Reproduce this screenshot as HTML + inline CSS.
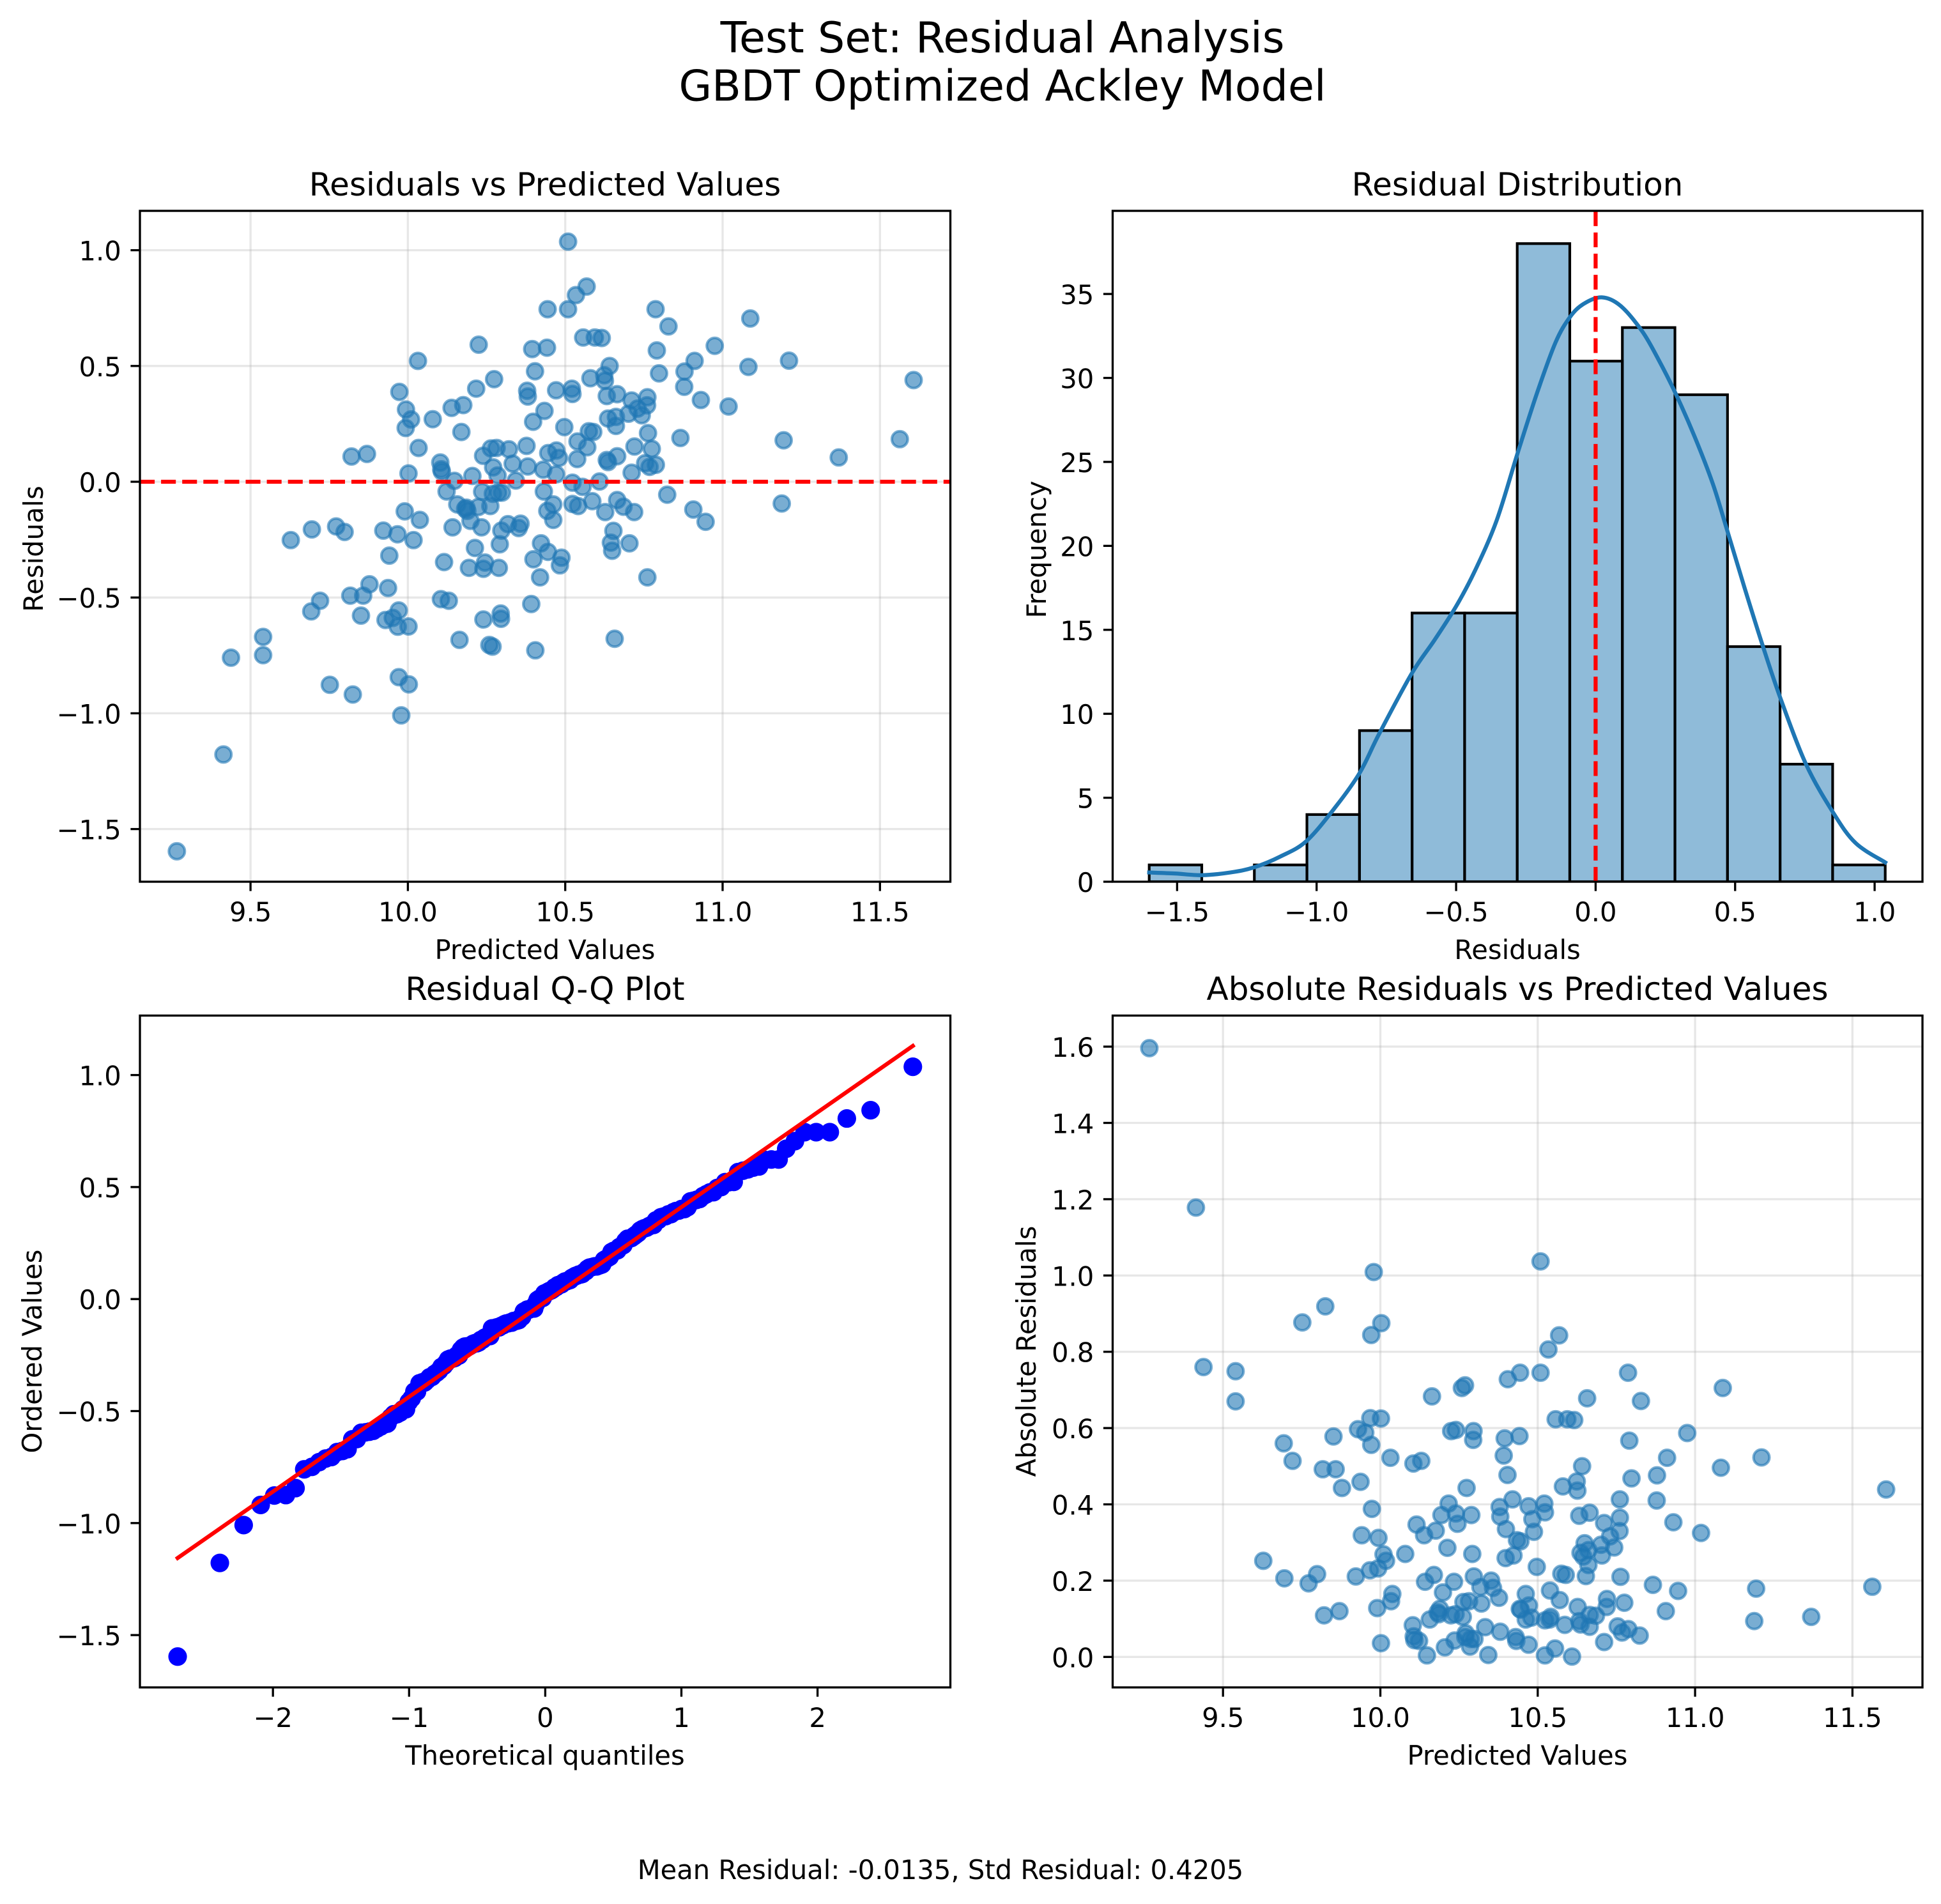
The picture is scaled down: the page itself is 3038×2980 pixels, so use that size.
<!DOCTYPE html>
<html lang="en">
<head>
<meta charset="utf-8">
<title>Test Set: Residual Analysis</title>
<style>
html,body{margin:0;padding:0;background:#fff;}
svg{display:block;}
text{font-family:"DejaVu Sans","Liberation Sans",sans-serif;fill:#000;}
.tick{font-size:41.67px;}
.label{font-size:41.67px;text-anchor:middle;}
.title{font-size:50px;text-anchor:middle;}
.sup{font-size:66.67px;text-anchor:middle;}
.foot{font-size:41.67px;text-anchor:middle;}
</style>
</head>
<body>
<svg id="fig" xmlns="http://www.w3.org/2000/svg" width="3038" height="2980" viewBox="0 0 3038 2980">
  <rect x="0" y="0" width="3038" height="2980" fill="#fff"/>
  <defs>
    <clipPath id="clip1"><rect x="219" y="330" width="1268.5" height="1050"/></clipPath>
    <clipPath id="clip2"><rect x="1741.5" y="330" width="1267.5" height="1050"/></clipPath>
    <clipPath id="clip3"><rect x="219" y="1589.5" width="1268.5" height="1051.5"/></clipPath>
    <clipPath id="clip4"><rect x="1741.5" y="1589.5" width="1267.5" height="1051.5"/></clipPath>
  </defs>
  <text class="sup" x="1569" y="82">Test Set: Residual Analysis</text>
  <text class="sup" x="1569" y="157.5">GBDT Optimized Ackley Model</text>

  <g id="p1">
    <text class="title" x="853" y="306">Residuals vs Predicted Values</text>
    <text class="label" x="853" y="1501">Predicted Values</text>
    <text class="label" transform="translate(67,859) rotate(-90)">Residuals</text>
  </g>
  <g id="p2">
    <text class="title" x="2375" y="306">Residual Distribution</text>
    <text class="label" x="2375" y="1501">Residuals</text>
    <text class="label" transform="translate(1637,860) rotate(-90)">Frequency</text>
  </g>
  <g id="p3">
    <text class="title" x="853" y="1565">Residual Q-Q Plot</text>
    <text class="label" x="853" y="2762">Theoretical quantiles</text>
    <text class="label" transform="translate(65,2115) rotate(-90)">Ordered Values</text>
  </g>
  <g id="p4">
    <text class="title" x="2375" y="1565">Absolute Residuals vs Predicted Values</text>
    <text class="label" x="2375" y="2762">Predicted Values</text>
    <text class="label" transform="translate(1621,2115) rotate(-90)">Absolute Residuals</text>
  </g>
  <text class="foot" x="1472" y="2941">Mean Residual: -0.0135, Std Residual: 0.4205</text>
</svg>
<script>
const predicted = [10.509,10.568,10.534,10.444,10.509,10.787,10.828,10.557,10.594,10.616,10.225,10.032,10.395,10.442,10.791,10.975,10.911,10.879,10.878,10.931,10.798,10.404,10.641,10.580,10.624,10.626,10.274,10.217,9.973,10.379,10.381,10.471,10.521,10.523,10.632,10.665,10.711,10.761,10.760,10.730,10.701,10.743,9.994,10.010,9.993,10.079,10.139,10.176,10.170,10.034,10.434,10.398,10.497,10.636,10.661,10.661,10.763,10.866,10.575,10.589,10.539,10.570,10.720,10.775,10.538,10.665,10.632,10.636,10.711,10.754,10.768,10.788,10.103,10.106,10.108,10.002,10.239,10.264,10.282,10.321,10.377,10.446,10.472,10.480,10.271,10.333,10.381,10.430,10.471,10.285,10.148,10.205,10.343,10.123,10.236,10.270,10.287,10.299,10.432,10.523,10.555,10.609,10.157,10.182,10.189,10.186,10.224,10.262,10.199,10.234,10.142,9.990,10.038,9.967,9.922,10.018,9.941,10.213,10.115,10.194,10.245,10.240,10.289,10.292,10.297,10.318,10.352,10.358,10.462,10.443,10.462,10.523,10.541,10.586,10.627,10.665,10.685,10.719,10.824,10.907,10.946,10.653,10.645,10.649,10.704,10.423,10.445,10.399,10.488,10.483,10.420,10.761,10.392,9.937,10.105,10.130,10.295,10.296,10.240,9.971,9.952,9.929,9.968,10.002,10.164,10.259,10.269,10.657,10.405,9.971,10.003,9.979,9.266,9.414,9.438,9.540,9.540,9.628,9.695,9.693,9.721,9.772,9.799,9.752,9.825,9.817,9.858,9.878,9.851,9.821,9.870,11.019,11.088,11.082,11.194,11.188,11.211,11.369,11.563,11.607];
const residuals = [1.037,0.843,0.806,0.745,0.745,0.745,0.671,0.623,0.623,0.621,0.592,0.522,0.573,0.579,0.567,0.587,0.522,0.476,0.410,0.353,0.468,0.477,0.500,0.447,0.460,0.436,0.443,0.402,0.388,0.393,0.368,0.395,0.402,0.379,0.370,0.378,0.351,0.365,0.330,0.316,0.294,0.287,0.312,0.269,0.232,0.270,0.319,0.331,0.215,0.146,0.306,0.259,0.236,0.273,0.280,0.241,0.210,0.189,0.218,0.215,0.174,0.149,0.152,0.142,0.098,0.110,0.094,0.085,0.039,0.080,0.064,0.073,0.083,0.054,0.044,0.036,0.112,0.144,0.146,0.140,0.155,0.124,0.135,0.103,0.062,0.078,0.066,0.052,0.032,0.027,0.004,0.025,0.005,-0.042,-0.043,-0.052,-0.047,-0.047,-0.042,-0.004,-0.022,0.001,-0.098,-0.117,-0.126,-0.112,-0.109,-0.105,-0.169,-0.197,-0.197,-0.128,-0.165,-0.227,-0.211,-0.252,-0.319,-0.286,-0.347,-0.372,-0.349,-0.376,-0.372,-0.270,-0.211,-0.183,-0.200,-0.181,-0.098,-0.126,-0.165,-0.096,-0.105,-0.084,-0.131,-0.079,-0.108,-0.131,-0.056,-0.120,-0.173,-0.212,-0.263,-0.298,-0.266,-0.266,-0.303,-0.335,-0.328,-0.361,-0.413,-0.413,-0.528,-0.459,-0.507,-0.514,-0.569,-0.592,-0.595,-0.556,-0.588,-0.597,-0.626,-0.625,-0.683,-0.705,-0.712,-0.678,-0.728,-0.844,-0.875,-1.009,-1.596,-1.178,-0.760,-0.670,-0.749,-0.252,-0.206,-0.560,-0.514,-0.193,-0.217,-0.877,-0.919,-0.492,-0.492,-0.443,-0.578,0.109,0.120,0.325,0.705,0.496,0.179,-0.094,0.523,0.105,0.184,0.439];
const histCounts = [1,0,1,4,9,16,16,38,31,33,29,14,7,1];
const histRange = [-1.6,1.038];
const kdeX = [-1.6,-1.508,-1.41,-1.31,-1.225,-1.13,-1.036,-0.93,-0.845,-0.776,-0.659,-0.577,-0.5,-0.433,-0.355,-0.28,-0.21,-0.144,-0.093,-0.044,0.022,0.089,0.166,0.222,0.286,0.355,0.42,0.472,0.532,0.6,0.663,0.754,0.852,0.932,1.038];
const kdeY = [0.55,0.49,0.39,0.55,0.85,1.5,2.43,4.5,6.5,8.8,12.4,14.4,16.4,18.5,21.5,25.5,29.1,32.1,33.6,34.4,34.8,34.3,32.8,31.2,29.1,26.5,23.7,20.9,17.6,14,10.9,7,4.1,2.3,1.15];
const theoreticalQuantiles = [-2.70,-2.39,-2.215,-2.09,-1.99,-1.905,-1.834,-1.770,-1.714,-1.661,-1.613,-1.570,-1.528,-1.489,-1.452,-1.417,-1.384,-1.351,-1.321,-1.292,-1.263,-1.236,-1.209,-1.184,-1.159,-1.135,-1.112,-1.089,-1.067,-1.045,-1.023,-1.002,-0.981,-0.961,-0.942,-0.923,-0.904,-0.885,-0.867,-0.849,-0.831,-0.813,-0.796,-0.779,-0.762,-0.745,-0.729,-0.713,-0.697,-0.681,-0.665,-0.650,-0.634,-0.619,-0.604,-0.589,-0.574,-0.559,-0.545,-0.530,-0.516,-0.502,-0.487,-0.474,-0.460,-0.446,-0.432,-0.418,-0.405,-0.391,-0.378,-0.364,-0.351,-0.338,-0.324,-0.311,-0.298,-0.285,-0.272,-0.259,-0.246,-0.233,-0.221,-0.208,-0.195,-0.182,-0.170,-0.157,-0.144,-0.132,-0.119,-0.107,-0.094,-0.081,-0.069,-0.056,-0.044,-0.031,-0.019,-0.006,0.006,0.019,0.031,0.044,0.056,0.069,0.081,0.094,0.107,0.119,0.132,0.144,0.157,0.170,0.182,0.195,0.208,0.221,0.233,0.246,0.259,0.272,0.285,0.298,0.311,0.324,0.338,0.351,0.364,0.378,0.391,0.405,0.418,0.432,0.446,0.460,0.474,0.487,0.502,0.516,0.530,0.545,0.559,0.574,0.589,0.604,0.619,0.634,0.650,0.665,0.681,0.697,0.713,0.729,0.745,0.762,0.779,0.796,0.813,0.831,0.849,0.867,0.885,0.904,0.923,0.942,0.961,0.981,1.002,1.023,1.045,1.067,1.089,1.112,1.135,1.159,1.184,1.209,1.236,1.263,1.292,1.321,1.351,1.384,1.417,1.452,1.489,1.528,1.570,1.613,1.661,1.714,1.770,1.834,1.905,1.99,2.09,2.215,2.39,2.70];
const qqLineX = [-2.70,2.70];
const qqLineY = [-1.156,1.130];
const predictedTicks = [9.5,10.0,10.5,11.0,11.5];
const predictedTickLabels = ["9.5","10.0","10.5","11.0","11.5"];
const residualTicks = [-1.5,-1.0,-0.5,0.0,0.5,1.0];
const residualTickLabels = ["\u22121.5","\u22121.0","\u22120.5","0.0","0.5","1.0"];
const frequencyTicks = [0,5,10,15,20,25,30,35];
const frequencyTickLabels = ["0","5","10","15","20","25","30","35"];
const quantileTicks = [-2,-1,0,1,2];
const quantileTickLabels = ["\u22122","\u22121","0","1","2"];
const absoluteTicks = [0,0.2,0.4,0.6,0.8,1.0,1.2,1.4,1.6];
const absoluteTickLabels = ["0.0","0.2","0.4","0.6","0.8","1.0","1.2","1.4","1.6"];

const NS = "http://www.w3.org/2000/svg";
function scale(d0, d1, r0, r1) { return v => r0 + (v - d0) * (r1 - r0) / (d1 - d0); }
function make(parent, tag, attrs) {
  const e = document.createElementNS(NS, tag);
  for (const k in attrs) e.setAttribute(k, attrs[k]);
  parent.appendChild(e);
  return e;
}
function drawGrid(g, box, sx, sy, xs, ys) {
  xs.forEach(v => {
    const l = make(g, "line", {x1:sx(v), x2:sx(v), y1:box.t, y2:box.b, stroke:"#b0b0b0", "stroke-opacity":0.3, "stroke-width":3.33});
    
    
  });
  ys.forEach(v => {
    const l = make(g, "line", {x1:box.l, x2:box.r, y1:sy(v), y2:sy(v), stroke:"#b0b0b0", "stroke-opacity":0.3, "stroke-width":3.33});
    
    
  });
}
function drawAxes(g, box, sx, sy, xs, xl, ys, yl) {
  const frame = make(g, "rect", {x:box.l, y:box.t, width:box.r-box.l, height:box.b-box.t, fill:"none", stroke:"#000", "stroke-width":3.33, "stroke-linejoin":"miter"});
  
  
  xs.forEach((v,i) => {
    const t = make(g, "line", {x1:sx(v), x2:sx(v), y1:box.b, y2:box.b+14.6, stroke:"#000", "stroke-width":3.33});
    
    
    const s = make(g, "text", {class:"tick", x:sx(v), y:box.b+62, "text-anchor":"middle"});
    s.textContent = xl[i];
    
    
  });
  ys.forEach((v,i) => {
    const t = make(g, "line", {x1:box.l-14.6, x2:box.l, y1:sy(v), y2:sy(v), stroke:"#000", "stroke-width":3.33});
    
    
    const s = make(g, "text", {class:"tick", x:box.l-29.2, y:sy(v)+16, "text-anchor":"end"});
    s.textContent = yl[i];
    
    
  });
}
function smoothPath(px, py) {
  let d = "M" + px[0] + " " + py[0];
  for (let i = 0; i < px.length - 1; i++) {
    const a = Math.max(i-1,0), b = Math.min(i+2,px.length-1);
    d += " C" + (px[i]+(px[i+1]-px[a])/6) + " " + (py[i]+(py[i+1]-py[a])/6) + " " +
         (px[i+1]-(px[b]-px[i])/6) + " " + (py[i+1]-(py[b]-py[i])/6) + " " + px[i+1] + " " + py[i+1];
  }
  return d;
}

/* Panel 1 */
(function(){
  const g = document.getElementById("p1");
  const box = {l:219,r:1487.5,t:330,b:1380};
  const sx = scale(9.1486,11.7237,box.l,box.r), sy = scale(1.170,-1.7274,box.t,box.b);
  drawGrid(g, box, sx, sy, predictedTicks, residualTicks);
  const pts = make(g, "g", {"clip-path":"url(#clip1)"});
  
  
  predicted.forEach((p,i) => {
    const c = make(pts, "circle", {cx:sx(p), cy:sy(residuals[i]), r:12.4, fill:"#1f77b4", "fill-opacity":0.6, stroke:"#1f77b4", "stroke-opacity":0.6, "stroke-width":4.17});
    
    
  });
  const z = make(g, "line", {x1:box.l, x2:box.r, y1:sy(0), y2:sy(0), stroke:"#f00", "stroke-width":6.25, "stroke-dasharray":"23.1 10"});
  
  
  drawAxes(g, box, sx, sy, predictedTicks, predictedTickLabels, residualTicks, residualTickLabels);
})();

/* Panel 2 */
(function(){
  const g = document.getElementById("p2");
  const box = {l:1741.5,r:3009,t:330,b:1380};
  const sx = scale(-1.731,1.1715,box.l,box.r), sy = scale(39.95,0,box.t,box.b);
  const clip = make(g, "g", {"clip-path":"url(#clip2)"});
  
  
  const w = (histRange[1]-histRange[0]) / histCounts.length;
  histCounts.forEach((c,i) => {
    if (c === 0) return;
    const x0 = sx(histRange[0]+i*w), x1 = sx(histRange[0]+(i+1)*w);
    const r = make(clip, "rect", {x:x0, y:sy(c), width:x1-x0, height:sy(0)-sy(c), fill:"#1f77b4", "fill-opacity":0.5, stroke:"#000", "stroke-width":4.17});
    
    
  });
  const k = make(clip, "path", {d:smoothPath(kdeX.map(sx), kdeY.map(sy)), fill:"none", stroke:"#1f77b4", "stroke-width":6.25, "stroke-linecap":"square"});
  
  
  const z = make(g, "line", {x1:sx(0), x2:sx(0), y1:box.b, y2:box.t, stroke:"#f00", "stroke-width":6.25, "stroke-dasharray":"23.1 10"});
  
  
  drawAxes(g, box, sx, sy, residualTicks, residualTickLabels, frequencyTicks, frequencyTickLabels);
})();

/* Panel 3 */
(function(){
  const g = document.getElementById("p3");
  const box = {l:219,r:1487.5,t:1589.5,b:2641};
  const sx = scale(-2.977,2.9756,box.l,box.r), sy = scale(1.2655,-1.7336,box.t,box.b);
  const ordered = residuals.slice().sort((a,b) => a-b);
  const pts = make(g, "g", {"clip-path":"url(#clip3)"});
  
  
  ordered.forEach((v,i) => {
    const c = make(pts, "circle", {cx:sx(theoreticalQuantiles[i]), cy:sy(v), r:14.58, fill:"#00f"});
    
    
  });
  const l = make(g, "line", {x1:sx(qqLineX[0]), y1:sy(qqLineY[0]), x2:sx(qqLineX[1]), y2:sy(qqLineY[1]), stroke:"#f00", "stroke-width":6.25, "stroke-linecap":"square"});
  
  
  drawAxes(g, box, sx, sy, quantileTicks, quantileTickLabels, residualTicks, residualTickLabels);
})();

/* Panel 4 */
(function(){
  const g = document.getElementById("p4");
  const box = {l:1741.5,r:3009,t:1589.5,b:2641};
  const sx = scale(9.1494,11.7225,box.l,box.r), sy = scale(1.6814,-0.0799,box.t,box.b);
  drawGrid(g, box, sx, sy, predictedTicks, absoluteTicks);
  const pts = make(g, "g", {"clip-path":"url(#clip4)"});
  
  
  predicted.forEach((p,i) => {
    const c = make(pts, "circle", {cx:sx(p), cy:sy(Math.abs(residuals[i])), r:12.4, fill:"#1f77b4", "fill-opacity":0.6, stroke:"#1f77b4", "stroke-opacity":0.6, "stroke-width":4.17});
    
    
  });
  drawAxes(g, box, sx, sy, predictedTicks, predictedTickLabels, absoluteTicks, absoluteTickLabels);
})();
</script>
</body>
</html>
